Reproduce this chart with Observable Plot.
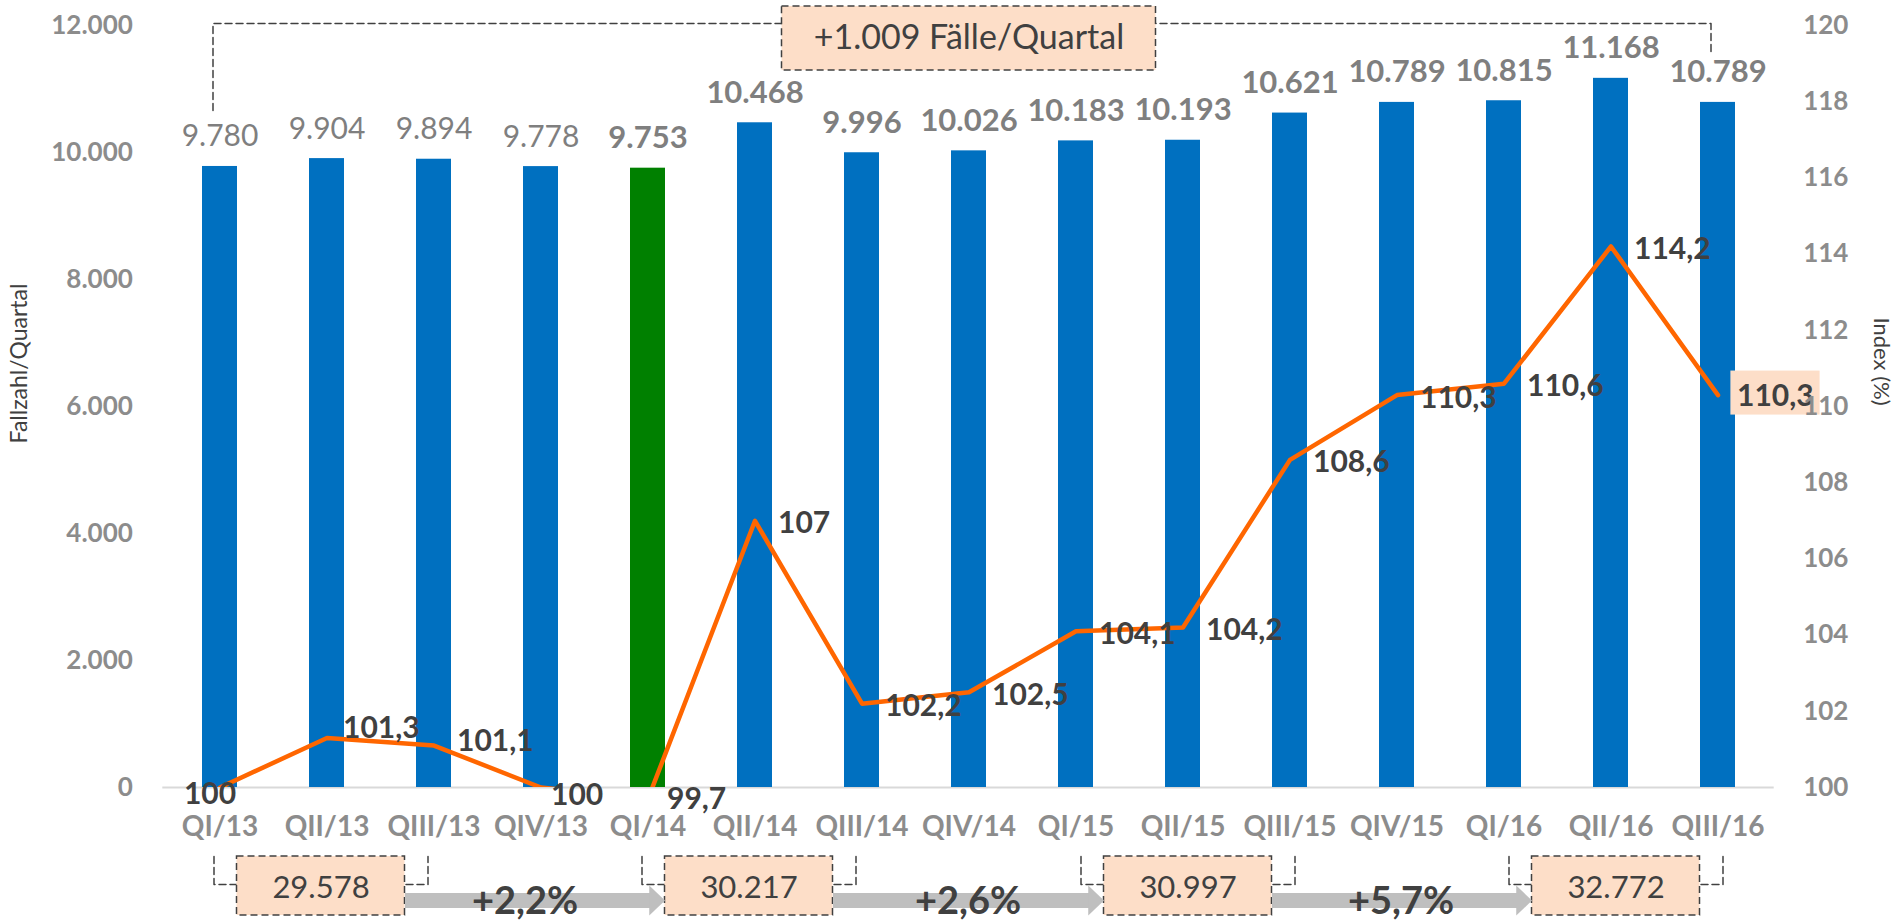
<!DOCTYPE html>
<html><head><meta charset="utf-8">
<script src="https://cdn.jsdelivr.net/npm/d3@7"></script>
<script src="https://cdn.jsdelivr.net/npm/@observablehq/plot@0.6"></script>
<style>
html,body{margin:0;padding:0;background:#fff;}
#chart{position:absolute;left:0;top:0;width:1895px;height:920px;}
#chart svg{display:block;}
</style></head><body><div id="chart"></div>
<script>
// ---------- data ----------
const quarters = ["QI/13","QII/13","QIII/13","QIV/13","QI/14","QII/14","QIII/14","QIV/14","QI/15","QII/15","QIII/15","QIV/15","QI/16","QII/16","QIII/16"];
const caseCounts = [9780,9904,9894,9778,9753,10468,9996,10026,10183,10193,10621,10789,10815,11168,10789];
const indexValues = [100,101.3,101.1,100,99.7,107,102.2,102.5,104.1,104.2,108.6,110.3,110.6,114.2,110.3];
const highlightQuarter = "QI/14";
const leftTicks = [0,2000,4000,6000,8000,10000,12000];
const rightTicks = [100,102,104,106,108,110,112,114,116,118,120];
const periodStart = ["QI/13","QI/14","QI/15","QI/16"];
const periodMid = ["QII/13","QII/14","QII/15","QII/16"];
const periodEnd = ["QIII/13","QIII/14","QIII/15","QIII/16"];
const periodTotals = [29578,30217,30997,32772];
const periodGrowth = [2.2,2.6,5.7];
const growthAt = ["QIV/13","QIV/14","QIV/15"];
const totalChange = 1009;
const totalFrom = "QI/13", totalTo = "QIII/16", totalLabelAt = "QIV/14";
const yAxisTitle = "Fallzahl/Quartal";
const y2AxisTitle = "Index (%)";

// ---------- helpers ----------
const idx = d3.scaleLinear().domain([100,120]).range([0,12000]); // right axis -> left axis units
const de = d3.formatLocale({decimal: ",", thousands: ".", grouping: [3], currency: ["", " €"]});
const fmtInt = de.format(",d");
const fmtIdx = v => Number.isInteger(v) ? String(v) : de.format(".1f")(v);
const fmtPct = v => "+" + de.format(".1f")(v) + "%";

const rows = quarters.map((q, i) => ({q, v: caseCounts[i], ix: indexValues[i], i}));
const groups = periodMid.map((m, i) => ({start: periodStart[i], mid: m, end: periodEnd[i], total: periodTotals[i]}));

// ---------- styles / layout ----------
const FONT = "Lato";
const BLUE = "#0070C0", GREEN = "#008000", ORANGE = "#FF6600";
const PEACH = "#FDDEC8", DARK = "#404040", GREY = "#7f7f7f", AXIS = "#8c8c8c", ARROW = "#BFBFBF";
const dash = {stroke: DARK, strokeWidth: 1.5, strokeDasharray: "7,4"};
// annotation positions in left-axis units
const A = {topLine: 12030, topLeftEnd: 10660, topRightEnd: 11575, topBox1: 11290, topBox2: 12300, topText: 11795,
           botTop: -1087, botMid: -1528, boxBottom: -2016, boxText: -1591, arrowY: -1780, pctY: -1800};
const groupDx = [-6, -6, 5, 5];
const pctDx = [-16, -1, 4];

const arrowHead = {draw(ctx, size) { const r = Math.sqrt(size / Math.PI);
  ctx.moveTo(-0.5 * r, -r); ctx.lineTo(0.55 * r, 0); ctx.lineTo(-0.5 * r, r); ctx.closePath(); }};

const idxLayout = [
  {only: ["QI/13"], dx: -10, dy: 7, anchor: "middle"},
  {only: ["QII/13"], dx: 16, dy: -10},
  {only: ["QIII/13"], dx: 23, dy: -4},
  {only: ["QIV/13"], dx: 10, dy: 8},
  {only: ["QI/14"], dx: 19, dy: 0},
  {only: ["QIII/16"], dx: 19, dy: 1}
];
const special = new Set(idxLayout.flatMap(d => d.only));

const marks = [];
marks.push(Plot.ruleY([0], {stroke: "#d9d9d9", strokeWidth: 2}));
marks.push(Plot.barY(rows, {filter: d => d.q !== highlightQuarter, x: "q", y: "v", fill: BLUE}));
marks.push(Plot.barY(rows, {filter: d => d.q === highlightQuarter, x: "q", y: "v", fill: GREEN}));
marks.push(Plot.text(rows, {filter: d => d.i < 4, x: "q", y: "v", text: d => fmtInt(d.v), dy: -20, lineAnchor: "bottom",
  fill: GREY, fontSize: 30, fontFamily: FONT}));
marks.push(Plot.text(rows, {filter: d => d.i >= 4, x: "q", y: "v", text: d => fmtInt(d.v), dy: -20, lineAnchor: "bottom",
  fill: GREY, fontSize: 31, fontWeight: "bold", fontFamily: FONT}));

// top bracket
marks.push(Plot.line([{q: totalFrom, y: A.topLeftEnd}, {q: totalFrom, y: A.topLine}, {q: totalTo, y: A.topLine}, {q: totalTo, y: A.topRightEnd}],
  {x: "q", y: "y", dx: -7, ...dash}));
marks.push(Plot.barY([totalLabelAt], {x: d => d, y1: () => A.topBox1, y2: () => A.topBox2, insetLeft: -169.5, insetRight: -169.5, fill: PEACH, ...dash}));
marks.push(Plot.text([totalLabelAt], {x: d => d, y: () => A.topText, text: () => "+" + fmtInt(totalChange) + " Fälle/Quartal",
  fill: DARK, fontSize: 34, fontFamily: FONT}));

// index line (clipped to the plot area like the original)
marks.push(Plot.line(rows, {x: "q", y: d => idx(d.ix), stroke: ORANGE, strokeWidth: 4.5, strokeLinejoin: "round", strokeLinecap: "round", clip: true}));
marks.push(Plot.barY(rows.filter(d => d.q === "QIII/16"), {x: "q", y1: d => idx(d.ix) - 315, y2: d => idx(d.ix) + 378,
  insetLeft: 30.4, insetRight: -84.6, fill: PEACH}));
const idxText = (filter, dx, dy, anchor = "start") => Plot.text(rows, {filter, x: "q", y: d => idx(d.ix), text: d => fmtIdx(d.ix),
  dx, dy, textAnchor: anchor, lineAnchor: "middle", fill: DARK, fontSize: 30, fontWeight: "bold", fontFamily: FONT});
for (const L of idxLayout) marks.push(idxText(d => L.only.includes(d.q), L.dx, L.dy, L.anchor || "start"));
marks.push(idxText(d => !special.has(d.q), 23, 3));

// bottom period boxes
groups.forEach((g, i) => {
  const dx = groupDx[i];
  marks.push(Plot.line([{q: g.start, y: A.botTop}, {q: g.start, y: A.botMid}, {q: g.end, y: A.botMid}, {q: g.end, y: A.botTop}],
    {x: "q", y: "y", dx, ...dash}));
  marks.push(Plot.barY([g], {x: "mid", y1: () => A.boxBottom, y2: () => A.botTop, dx, insetLeft: -66.5, insetRight: -66.5, fill: PEACH, ...dash}));
  marks.push(Plot.text([g], {x: "mid", y: () => A.boxText, dx, text: d => fmtInt(d.total), fill: DARK, fontSize: 31, fontFamily: FONT}));
});
// arrows between periods
periodGrowth.forEach((p, i) => {
  const a = groups[i], b = groups[i + 1];
  marks.push(Plot.arrow([{a: a.mid, b: b.mid}], {x1: "a", x2: "b", y1: () => A.arrowY, y2: () => A.arrowY,
    insetStart: 84 + groupDx[i], insetEnd: 94 - groupDx[i + 1], headLength: 0, stroke: ARROW, strokeWidth: 15, strokeLinecap: "butt"}));
  marks.push(Plot.dot([b], {x: "mid", y: () => A.arrowY, dx: groupDx[i + 1] - 84 - 8.25, r: 15, symbol: arrowHead, fill: ARROW, stroke: "none"}));
  marks.push(Plot.text([growthAt[i]], {x: d => d, y: () => A.pctY, dx: pctDx[i], text: () => fmtPct(p), lineAnchor: "middle",
    fill: DARK, fontSize: 38, fontWeight: "bold", fontFamily: FONT}));
});

// axes
marks.push(Plot.axisX({tickSize: 0, tickPadding: 29, label: null, fontSize: 28, fontWeight: "bold", color: AXIS, fill: AXIS, fontFamily: FONT}));
marks.push(Plot.axisY(leftTicks, {anchor: "left", tickSize: 0, tickPadding: 30, tickFormat: fmtInt, label: null,
  fontSize: 26, fontWeight: "bold", color: AXIS, fill: AXIS, fontFamily: FONT}));
marks.push(Plot.axisY(rightTicks.map(idx), {anchor: "right", tickSize: 0, tickPadding: 29, tickFormat: v => String(Math.round(idx.invert(v))),
  label: null, fontSize: 26, fontWeight: "bold", color: AXIS, fill: AXIS, fontFamily: FONT}));
marks.push(Plot.text([yAxisTitle], {frameAnchor: "top-left", text: d => d, dx: -143.3, dy: 338, rotate: -90,
  textAnchor: "middle", lineAnchor: "middle", fill: DARK, fontSize: 23, fontFamily: FONT}));
marks.push(Plot.text([y2AxisTitle], {frameAnchor: "top-right", text: d => d, dx: 107, dy: 336, rotate: 90,
  textAnchor: "middle", lineAnchor: "middle", fill: DARK, fontSize: 22, fontFamily: FONT}));

const chart = Plot.plot({
  width: 1895, height: 920,
  marginLeft: 162.3, marginRight: 121.3, marginTop: 25, marginBottom: 133,
  x: {domain: quarters, paddingInner: 0.675, paddingOuter: 0.3375},
  y: {domain: [0, 12000]},
  style: {fontFamily: FONT, background: "#fff", overflow: "visible"},
  marks
});
document.getElementById("chart").appendChild(chart);
</script></body></html>
